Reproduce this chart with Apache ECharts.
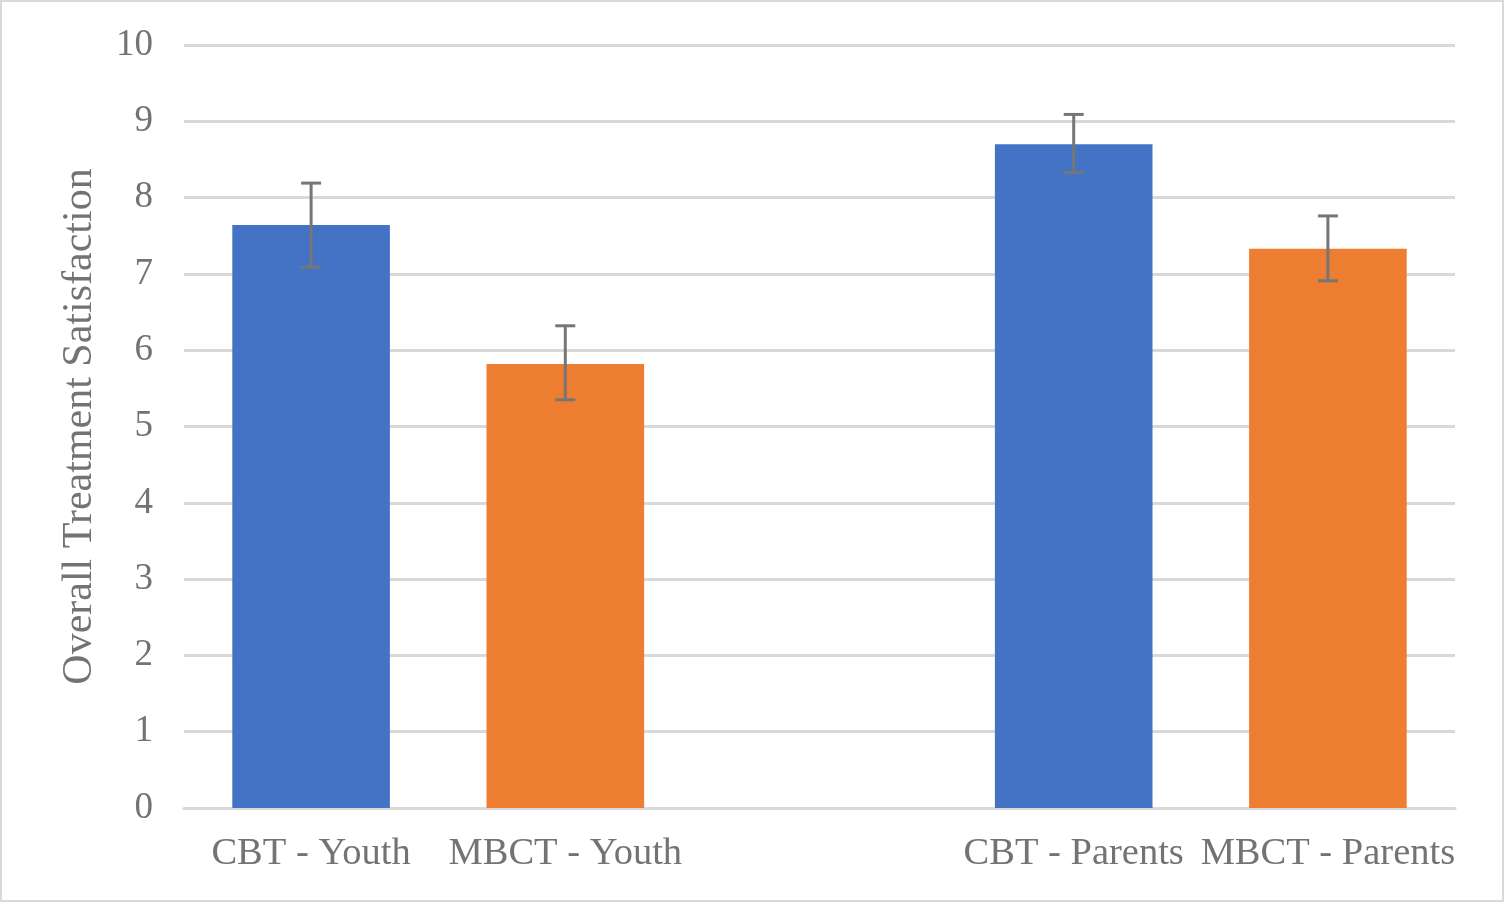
<!DOCTYPE html>
<html>
<head>
<meta charset="utf-8">
<script src="https://cdn.jsdelivr.net/npm/echarts@6/dist/echarts.min.js"></script>
<style>
html,body{margin:0;padding:0;background:#fff;}
#wrap{width:1500px;height:898px;border:2px solid #d9d9d9;}
#chart{width:1500px;height:898px;}
</style>
</head>
<body>
<div id="wrap"><div id="chart"></div></div>
<script>
const categories = ['CBT - Youth', 'MBCT - Youth', '', 'CBT - Parents', 'MBCT - Parents'];
const cbtValues  = [7.64, '-', '-', 8.70, '-'];
const mbctValues = ['-', 5.82, '-', '-', 7.33];
const errLow  = [7.09, 5.35, null, 8.33, 6.91];
const errHigh = [8.19, 6.32, null, 9.09, 7.76];
const yTicks = [0, 10, 1];

const errData = [];
categories.forEach((c, i) => { if (errLow[i] != null) errData.push([i, errLow[i], errHigh[i]]); });

const font = '"Liberation Serif", "Times New Roman", serif';
const chart = echarts.init(document.getElementById('chart'));
chart.setOption({
  animation: false,
  grid: { left: 182, right: 47, top: 43, bottom: 92 },
  xAxis: {
    type: 'category',
    data: categories,
    axisLine: { lineStyle: { color: '#d9d9d9', width: 3 } },
    axisTick: { show: false },
    axisLabel: { color: '#737373', fontFamily: font, fontSize: 38.5, margin: 26, interval: 0 }
  },
  yAxis: {
    type: 'value',
    min: yTicks[0], max: yTicks[1], interval: yTicks[2],
    name: 'Overall Treatment Satisfaction',
    nameLocation: 'middle',
    nameGap: 83,
    nameRotate: 90,
    nameTextStyle: { color: '#737373', fontFamily: font, fontSize: 42 },
    axisLine: { show: false },
    axisTick: { show: false },
    splitLine: { lineStyle: { color: '#d9d9d9', width: 3 } },
    axisLabel: { color: '#737373', fontFamily: font, fontSize: 37, margin: 31 }
  },
  series: [
    { type: 'bar', data: cbtValues, barWidth: '62%', barGap: '-100%', itemStyle: { color: '#4472C4' } },
    { type: 'bar', data: mbctValues, barWidth: '62%', barGap: '-100%', itemStyle: { color: '#ED7D31' } },
    {
      type: 'custom',
      data: errData,
      z: 10,
      renderItem: function (params, api) {
        const x = api.value(0);
        const lo = api.coord([x, api.value(1)]);
        const hi = api.coord([x, api.value(2)]);
        const half = 10;
        const style = { stroke: '#767676', lineWidth: 3 };
        return {
          type: 'group',
          children: [
            { type: 'line', shape: { x1: hi[0], y1: hi[1], x2: lo[0], y2: lo[1] }, style: style },
            { type: 'line', shape: { x1: hi[0] - half, y1: hi[1], x2: hi[0] + half, y2: hi[1] }, style: style },
            { type: 'line', shape: { x1: lo[0] - half, y1: lo[1], x2: lo[0] + half, y2: lo[1] }, style: style }
          ]
        };
      }
    }
  ]
});
</script>
</body>
</html>
